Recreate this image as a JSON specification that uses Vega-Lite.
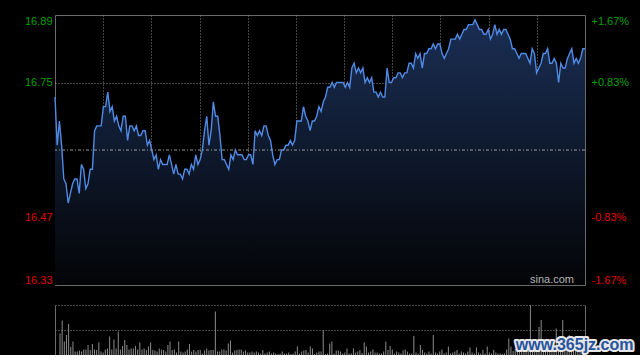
{
"$schema": "https://vega.github.io/schema/vega-lite/v6.json",
"background": "#000000",
"padding": {"left": 0, "top": 14, "right": 0, "bottom": 0},
"spacing": 19,
"config": {"view": {"stroke": null}, "font": "Liberation Sans", "axis": {"labelFont": "Liberation Sans"}},
"data": {"values": [
{"m":0,"p":16.72,"v":43},{"m":1,"p":16.62,"v":69},{"m":2,"p":16.67,"v":27},{"m":3,"p":16.62,"v":40},{"m":4,"p":16.55,"v":62},
{"m":5,"p":16.54,"v":16},{"m":6,"p":16.50,"v":27},{"m":7,"p":16.52,"v":7},{"m":8,"p":16.54,"v":7},{"m":9,"p":16.55,"v":9},
{"m":10,"p":16.55,"v":7},{"m":11,"p":16.52,"v":11},{"m":12,"p":16.58,"v":11},{"m":13,"p":16.57,"v":20},{"m":14,"p":16.53,"v":10},
{"m":15,"p":16.54,"v":22},{"m":16,"p":16.57,"v":11},{"m":17,"p":16.57,"v":10},{"m":18,"p":16.65,"v":25},{"m":19,"p":16.66,"v":7},
{"m":20,"p":16.66,"v":5},{"m":21,"p":16.66,"v":11},{"m":22,"p":16.70,"v":13},{"m":23,"p":16.70,"v":37},{"m":24,"p":16.73,"v":11},
{"m":25,"p":16.69,"v":31},{"m":26,"p":16.70,"v":13},{"m":27,"p":16.67,"v":47},{"m":28,"p":16.68,"v":11},{"m":29,"p":16.66,"v":18},
{"m":30,"p":16.65,"v":30},{"m":31,"p":16.68,"v":20},{"m":32,"p":16.68,"v":11},{"m":33,"p":16.63,"v":13},{"m":34,"p":16.66,"v":13},
{"m":35,"p":16.66,"v":18},{"m":36,"p":16.65,"v":11},{"m":37,"p":16.66,"v":25},{"m":38,"p":16.64,"v":11},{"m":39,"p":16.64,"v":13},
{"m":40,"p":16.65,"v":10},{"m":41,"p":16.65,"v":17},{"m":42,"p":16.62,"v":25},{"m":43,"p":16.63,"v":10},{"m":44,"p":16.61,"v":9},
{"m":45,"p":16.59,"v":7},{"m":46,"p":16.60,"v":13},{"m":47,"p":16.57,"v":11},{"m":48,"p":16.59,"v":10},{"m":49,"p":16.58,"v":7},
{"m":50,"p":16.58,"v":20},{"m":51,"p":16.58,"v":27},{"m":52,"p":16.60,"v":10},{"m":53,"p":16.58,"v":11},{"m":54,"p":16.56,"v":5},
{"m":55,"p":16.58,"v":27},{"m":56,"p":16.56,"v":7},{"m":57,"p":16.56,"v":5},{"m":58,"p":16.55,"v":7},{"m":59,"p":16.57,"v":11},
{"m":60,"p":16.57,"v":22},{"m":61,"p":16.56,"v":7},{"m":62,"p":16.58,"v":10},{"m":63,"p":16.57,"v":7},{"m":64,"p":16.60,"v":10},
{"m":65,"p":16.58,"v":10},{"m":66,"p":16.59,"v":3},{"m":67,"p":16.61,"v":9},{"m":68,"p":16.65,"v":13},{"m":69,"p":16.68,"v":9},
{"m":70,"p":16.62,"v":10},{"m":71,"p":16.65,"v":10},{"m":72,"p":16.71,"v":87},{"m":73,"p":16.68,"v":7},{"m":74,"p":16.68,"v":7},
{"m":75,"p":16.64,"v":11},{"m":76,"p":16.59,"v":11},{"m":77,"p":16.59,"v":9},{"m":78,"p":16.58,"v":23},{"m":79,"p":16.57,"v":29},
{"m":80,"p":16.60,"v":5},{"m":81,"p":16.59,"v":9},{"m":82,"p":16.61,"v":10},{"m":83,"p":16.60,"v":11},{"m":84,"p":16.60,"v":11},
{"m":85,"p":16.60,"v":7},{"m":86,"p":16.59,"v":9},{"m":87,"p":16.59,"v":5},{"m":88,"p":16.60,"v":5},{"m":89,"p":16.60,"v":7},
{"m":90,"p":16.58,"v":5},{"m":91,"p":16.65,"v":7},{"m":92,"p":16.64,"v":5},{"m":93,"p":16.65,"v":3},{"m":94,"p":16.64,"v":10},
{"m":95,"p":16.66,"v":3},{"m":96,"p":16.66,"v":5},{"m":97,"p":16.64,"v":7},{"m":98,"p":16.63,"v":3},{"m":99,"p":16.60,"v":5},
{"m":100,"p":16.58,"v":3},{"m":101,"p":16.59,"v":2},{"m":102,"p":16.59,"v":3},{"m":103,"p":16.61,"v":7},{"m":104,"p":16.61,"v":3},
{"m":105,"p":16.62,"v":3},{"m":106,"p":16.62,"v":5},{"m":107,"p":16.63,"v":2},{"m":108,"p":16.62,"v":3},{"m":109,"p":16.63,"v":7},
{"m":110,"p":16.67,"v":17},{"m":111,"p":16.67,"v":3},{"m":112,"p":16.67,"v":7},{"m":113,"p":16.70,"v":9},{"m":114,"p":16.68,"v":10},
{"m":115,"p":16.67,"v":5},{"m":116,"p":16.65,"v":17},{"m":117,"p":16.67,"v":13},{"m":118,"p":16.67,"v":2},{"m":119,"p":16.68,"v":5},
{"m":120,"p":16.70,"v":7},{"m":121,"p":16.69,"v":7},{"m":122,"p":16.71,"v":50},{"m":123,"p":16.72,"v":2},{"m":124,"p":16.74,"v":3},
{"m":125,"p":16.74,"v":23},{"m":126,"p":16.75,"v":27},{"m":127,"p":16.74,"v":3},{"m":128,"p":16.75,"v":9},{"m":129,"p":16.75,"v":9},
{"m":130,"p":16.75,"v":7},{"m":131,"p":16.75,"v":3},{"m":132,"p":16.74,"v":5},{"m":133,"p":16.75,"v":13},{"m":134,"p":16.74,"v":3},
{"m":135,"p":16.78,"v":3},{"m":136,"p":16.79,"v":13},{"m":137,"p":16.77,"v":5},{"m":138,"p":16.78,"v":7},{"m":139,"p":16.77,"v":10},
{"m":140,"p":16.78,"v":4},{"m":141,"p":16.75,"v":25},{"m":142,"p":16.76,"v":17},{"m":143,"p":16.75,"v":5},{"m":144,"p":16.76,"v":7},
{"m":145,"p":16.73,"v":11},{"m":146,"p":16.73,"v":5},{"m":147,"p":16.72,"v":5},{"m":148,"p":16.73,"v":3},{"m":149,"p":16.72,"v":3},
{"m":150,"p":16.72,"v":7},{"m":151,"p":16.78,"v":27},{"m":152,"p":16.75,"v":10},{"m":153,"p":16.75,"v":18},{"m":154,"p":16.76,"v":11},
{"m":155,"p":16.76,"v":3},{"m":156,"p":16.77,"v":7},{"m":157,"p":16.77,"v":5},{"m":158,"p":16.76,"v":3},{"m":159,"p":16.77,"v":9},
{"m":160,"p":16.77,"v":11},{"m":161,"p":16.79,"v":7},{"m":162,"p":16.79,"v":3},{"m":163,"p":16.78,"v":3},{"m":164,"p":16.81,"v":38},
{"m":165,"p":16.80,"v":5},{"m":166,"p":16.81,"v":3},{"m":167,"p":16.78,"v":20},{"m":168,"p":16.81,"v":10},{"m":169,"p":16.81,"v":5},
{"m":170,"p":16.82,"v":3},{"m":171,"p":16.82,"v":7},{"m":172,"p":16.83,"v":3},{"m":173,"p":16.82,"v":40},{"m":174,"p":16.83,"v":5},
{"m":175,"p":16.83,"v":3},{"m":176,"p":16.81,"v":7},{"m":177,"p":16.80,"v":11},{"m":178,"p":16.81,"v":3},{"m":179,"p":16.82,"v":5},
{"m":180,"p":16.84,"v":17},{"m":181,"p":16.84,"v":3},{"m":182,"p":16.84,"v":5},{"m":183,"p":16.85,"v":7},{"m":184,"p":16.84,"v":10},
{"m":185,"p":16.85,"v":3},{"m":186,"p":16.86,"v":7},{"m":187,"p":16.86,"v":5},{"m":188,"p":16.87,"v":3},{"m":189,"p":16.87,"v":7},
{"m":190,"p":16.87,"v":15},{"m":191,"p":16.88,"v":5},{"m":192,"p":16.87,"v":3},{"m":193,"p":16.86,"v":15},{"m":194,"p":16.86,"v":5},
{"m":195,"p":16.85,"v":3},{"m":196,"p":16.85,"v":10},{"m":197,"p":16.86,"v":3},{"m":198,"p":16.84,"v":17},{"m":199,"p":16.85,"v":5},
{"m":200,"p":16.87,"v":3},{"m":201,"p":16.85,"v":10},{"m":202,"p":16.86,"v":5},{"m":203,"p":16.85,"v":3},{"m":204,"p":16.86,"v":3},
{"m":205,"p":16.86,"v":2},{"m":206,"p":16.85,"v":3},{"m":207,"p":16.84,"v":11},{"m":208,"p":16.82,"v":33},{"m":209,"p":16.82,"v":17},
{"m":210,"p":16.81,"v":8},{"m":211,"p":16.80,"v":12},{"m":212,"p":16.81,"v":10},{"m":213,"p":16.81,"v":15},{"m":214,"p":16.81,"v":8},
{"m":215,"p":16.80,"v":12},{"m":216,"p":16.79,"v":10},{"m":217,"p":16.82,"v":14},{"m":218,"p":16.81,"v":100},{"m":219,"p":16.77,"v":12},
{"m":220,"p":16.78,"v":20},{"m":221,"p":16.79,"v":15},{"m":222,"p":16.81,"v":56},{"m":223,"p":16.81,"v":70},{"m":224,"p":16.82,"v":15},
{"m":225,"p":16.79,"v":10},{"m":226,"p":16.79,"v":12},{"m":227,"p":16.80,"v":18},{"m":228,"p":16.79,"v":14},{"m":229,"p":16.75,"v":20},
{"m":230,"p":16.79,"v":53},{"m":231,"p":16.78,"v":15},{"m":232,"p":16.78,"v":12},{"m":233,"p":16.80,"v":70},{"m":234,"p":16.81,"v":14},
{"m":235,"p":16.82,"v":18},{"m":236,"p":16.79,"v":40},{"m":237,"p":16.80,"v":12},{"m":238,"p":16.79,"v":10},{"m":239,"p":16.80,"v":16},
{"m":240,"p":16.82,"v":12},{"m":241,"p":16.82,"v":20}
]},
"vconcat": [
{
"width": 530,
"height": 270,
"view": {"stroke": "#6a6a6a", "strokeWidth": 1},
"layer": [
{
"mark": {"type": "area", "color": {"x1": 0, "y1": 0, "x2": 0, "y2": 1, "gradient": "linear", "stops": [{"offset": 0, "color": "#1a2e54"}, {"offset": 1, "color": "#030406"}]}},
"encoding": {
"x": {"field": "m", "type": "quantitative", "scale": {"domain": [0, 241], "nice": false, "zero": false},
"axis": {"title": null, "labels": false, "ticks": false, "domain": false, "grid": true, "gridColor": "#8a8a8a", "gridDash": [1, 2], "values": [21.909, 43.818, 65.727, 87.636, 109.545, 131.455, 153.364, 175.273, 197.182, 219.091], "minExtent": 0, "maxExtent": 0}},
"y": {"field": "p", "type": "quantitative", "scale": {"domain": [16.33, 16.89], "nice": false, "zero": false},
"axis": {"orient": "left", "title": null, "values": [16.33, 16.47, 16.75, 16.89], "format": ".2f", "domain": false, "ticks": false, "labelPadding": 3, "labelFlush": true, "labelFontSize": 11, "labelColor": {"condition": {"test": "datum.value > 16.61", "value": "#00a000"}, "value": "#e00000"}, "grid": true, "gridColor": "#8a8a8a", "gridDash": [1, 2], "gridOpacity": {"condition": {"test": "datum.value > 16.4 && datum.value < 16.8", "value": 1}, "value": 0}, "minExtent": 54, "maxExtent": 54}},
"y2": {"datum": 16.33}
}
},
{
"mark": {"type": "line", "color": "#4f8be6", "strokeWidth": 1.4},
"encoding": {
"x": {"field": "m", "type": "quantitative"},
"y": {"field": "p", "type": "quantitative", "scale": {"domain": [16.33, 16.89], "nice": false, "zero": false}, "axis": null}
}
},
{
"data": {"values": [{"pct": 0}]},
"mark": {"type": "rule", "color": "#9a9a9a", "strokeWidth": 1, "strokeDash": [3, 2, 1, 2]},
"encoding": {
"y": {"field": "pct", "type": "quantitative", "scale": {"domain": [-1.67, 1.67], "nice": false, "zero": false},
"axis": {"orient": "right", "title": null, "values": [-1.67, -0.83, 0.83, 1.67], "labelExpr": "(datum.value > 0 ? '+' : '-') + format(abs(datum.value), '.2f') + '%'", "domain": false, "ticks": false, "grid": false, "labelPadding": 6, "labelFlush": true, "labelFontSize": 11, "labelColor": {"condition": {"test": "datum.value > 0", "value": "#00a000"}, "value": "#e00000"}, "minExtent": 56, "maxExtent": 56}}
}
},
{
"data": {"values": [{"label": "sina.com"}]},
"mark": {"type": "text", "align": "right", "baseline": "alphabetic", "fontSize": 11, "color": "#b4b4b4"},
"encoding": {
"text": {"field": "label"},
"x": {"datum": 236, "type": "quantitative"},
"y": {"datum": 16.334, "type": "quantitative", "scale": {"domain": [16.33, 16.89], "nice": false, "zero": false}, "axis": null}
}
}
],
"resolve": {"scale": {"y": "independent"}}
},
{
"width": 530,
"height": 50,
"layer": [
{
"mark": {"type": "bar", "width": 1, "color": "#8c8c8c"},
"encoding": {
"x": {"field": "m", "type": "quantitative", "scale": {"domain": [0, 241], "nice": false, "zero": false},
"axis": {"title": null, "labels": false, "ticks": false, "grid": false, "domain": true, "domainColor": "#6a6a6a", "minExtent": 0, "maxExtent": 0}},
"y": {"field": "v", "type": "quantitative", "scale": {"domain": [0, 100], "nice": false},
"axis": {"orient": "left", "title": null, "values": [0, 50, 100], "labels": false, "ticks": false, "domain": true, "domainColor": "#6a6a6a", "grid": true, "gridColor": "#8a8a8a", "gridDash": [1, 2], "gridOpacity": {"condition": {"test": "datum.value > 0", "value": 1}, "value": 0}, "minExtent": 54, "maxExtent": 54}}
}
},
{
"data": {"values": [{"label": "www.365jz.com"}]},
"mark": {"type": "text", "align": "center", "baseline": "alphabetic", "fontSize": 16, "fontWeight": "bold", "fill": "#e6e6e6", "stroke": "#e6e6e6", "strokeWidth": 4, "strokeJoin": "round"},
"encoding": {
"text": {"field": "label"},
"x": {"datum": 238.5, "type": "quantitative"},
"y": {"datum": 10, "type": "quantitative", "axis": {"orient": "right", "title": null, "labels": false, "ticks": false, "grid": false, "domain": true, "domainColor": "#6a6a6a"}}
}
},
{
"data": {"values": [{"label": "www.365jz.com"}]},
"mark": {"type": "text", "align": "center", "baseline": "alphabetic", "fontSize": 16, "fontWeight": "bold", "fill": "#26549f"},
"encoding": {
"text": {"field": "label"},
"x": {"datum": 238.5, "type": "quantitative"},
"y": {"datum": 10, "type": "quantitative", "axis": null}
}
}
],
"resolve": {"axis": {"y": "independent"}}
}
]
}
